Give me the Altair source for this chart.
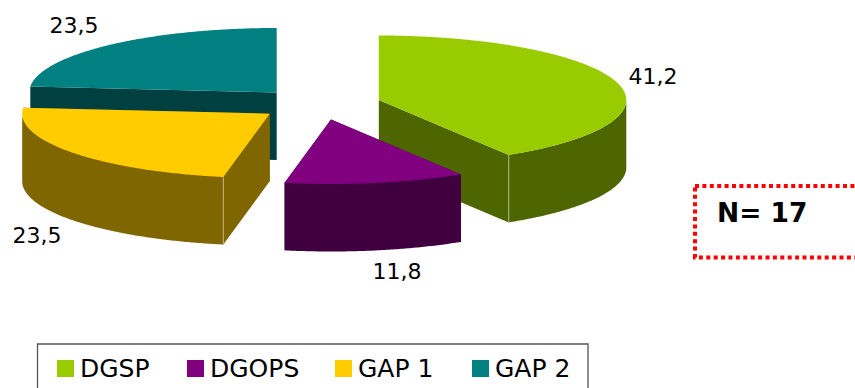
import math
import altair as alt
import pandas as pd

# Shares per group, in percent
groups = ["DGSP", "DGOPS", "GAP 1", "GAP 2"]
shares = [41.2, 11.8, 23.5, 23.5]
share_labels = ["41,2", "11,8", "23,5", "23,5"]
top_colors = ["#99CC00", "#800080", "#FFCC00", "#008080"]
wall_colors = ["#4D6600", "#400040", "#806600", "#004040"]

# Layout of the exploded pie, in pixels
W, H = 855, 388
RX, RY, DEPTH = 247.5, 64.5, 67.5
pivots = {"DGSP": (378.8, 100), "DGOPS": (331, 119.5), "GAP 1": (269.7, 113.7), "GAP 2": (276.7, 92.5)}
label_pos = {"DGSP": (653, 84), "DGOPS": (397, 279), "GAP 1": (37, 243), "GAP 2": (74, 33)}
draw_order = ["GAP 2", "DGSP", "GAP 1", "DGOPS"]
key_left = [57, 187, 335, 472]

x_scale = alt.Scale(domain=[0, W], nice=False, zero=False)
y_scale = alt.Scale(domain=[H, 0], nice=False, zero=False)
x_enc = alt.X("x:Q", scale=x_scale, axis=None)
y_enc = alt.Y("y:Q", scale=y_scale, axis=None)
group_color = alt.Color(
    "group:N", scale=alt.Scale(domain=groups, range=top_colors), legend=None
)


def rim(pivot, deg, drop=0):
    a = math.radians(deg)
    return pivot[0] + RX * math.sin(a), pivot[1] - RY * math.cos(a) + drop


def arc(pivot, start, end, drop=0):
    n = max(2, int(abs(end - start) * 2))
    return [rim(pivot, start + (end - start) * i / n, drop) for i in range(n + 1)]


def polygon(points, color_enc):
    df = pd.DataFrame(points, columns=["x", "y"])
    df["i"] = range(len(df))
    return alt.Chart(df).mark_line(filled=True, strokeWidth=0, interpolate="linear").encode(
        x=x_enc, y=y_enc, order=alt.Order("i:Q"), **color_enc
    )


def seam(p, q, color):
    df = pd.DataFrame([p, q], columns=["x", "y"])
    df["i"] = range(2)
    return alt.Chart(df).mark_line(color=color, strokeWidth=1).encode(
        x=x_enc, y=y_enc, order=alt.Order("i:Q")
    )


layers = []

# Pie slices, back to front
bounds = {}
angle = 0.0
for g, s in zip(groups, shares):
    bounds[g] = (angle, angle + s * 3.6)
    angle += s * 3.6

for g in draw_order:
    idx = groups.index(g)
    start, end = bounds[g]
    p = pivots[g]
    wall = {"color": alt.value(wall_colors[idx])}
    # Radial faces, then the visible front of the rim, then the top
    for deg in (start, end):
        edge = rim(p, deg)
        layers.append(polygon([p, edge, (edge[0], edge[1] + DEPTH), (p[0], p[1] + DEPTH)], wall))
    f0, f1 = max(start, 90), min(end, 270)
    if f0 < f1:
        layers.append(polygon(arc(p, f0, f1) + arc(p, f1, f0, DEPTH), wall))
    top = pd.DataFrame(arc(p, start, end) + [p], columns=["x", "y"])
    top["i"] = range(len(top))
    top["group"] = g
    layers.append(
        alt.Chart(top).mark_line(filled=True, strokeWidth=0).encode(
            x=x_enc, y=y_enc, order=alt.Order("i:Q"), color=group_color
        )
    )

# Pale highlight on the front corners of the two large front slices
for g, col in (("DGSP", "#A9B87F"), ("GAP 1", "#BFB27F")):
    corner = rim(pivots[g], bounds[g][1] if g == "DGSP" else bounds[g][0])
    layers.append(seam(corner, (corner[0], corner[1] + DEPTH), col))

# Value labels beside the slices
labels = pd.DataFrame(
    {
        "x": [label_pos[g][0] for g in groups],
        "y": [label_pos[g][1] for g in groups],
        "label": share_labels,
    }
)
layers.append(
    alt.Chart(labels).mark_text(font="DejaVu Sans", fontSize=22, color="#000000", baseline="alphabetic").encode(
        x=x_enc, y=y_enc, text="label:N"
    )
)

# Key along the bottom, its frame's lower edge lying below the visible area
layers.append(
    alt.Chart(pd.DataFrame({"frame": [1]})).mark_rect(
        fill="#FFFFFF", stroke="#555555", strokeWidth=1.3
    ).encode(x=alt.value(37.5), x2=alt.value(588), y=alt.value(344), y2=alt.value(420))
)
key = pd.DataFrame({"group": groups, "left": key_left})
key["sx"] = key["left"] + 8.5
key["tx"] = key["left"] + 23
key["sy"] = 368.5
key["ty"] = 377
layers.append(
    alt.Chart(key).mark_square(size=289, opacity=1, strokeWidth=0).encode(
        x=alt.X("sx:Q", scale=x_scale, axis=None),
        y=alt.Y("sy:Q", scale=y_scale, axis=None),
        color=group_color,
    )
)
layers.append(
    alt.Chart(key).mark_text(
        font="DejaVu Sans", fontSize=25, color="#000000", align="left", baseline="alphabetic"
    ).encode(
        x=alt.X("tx:Q", scale=x_scale, axis=None),
        y=alt.Y("ty:Q", scale=y_scale, axis=None),
        text="group:N",
    )
)

# Sample-size note in a dotted red box running off the right side
layers.append(
    alt.Chart(pd.DataFrame({"n": ["N= 17"]})).mark_rect(
        fill="#FFFFFF", stroke="#FF0000", strokeWidth=4, strokeDash=[4, 3.4]
    ).encode(x=alt.value(695), x2=alt.value(900), y=alt.value(186), y2=alt.value(257.5))
)
layers.append(
    alt.Chart(pd.DataFrame({"n": ["N= 17"]})).mark_text(
        font="DejaVu Sans", fontSize=26.5, fontWeight="bold", color="#000000", align="left", baseline="alphabetic"
    ).encode(x=alt.value(717), y=alt.value(222), text="n:N")
)

chart = (
    alt.layer(*layers)
    .resolve_scale(x="shared", y="shared")
    .properties(width=W, height=H, padding=0, autosize=alt.AutoSizeParams(type="none"), background="#FFFFFF")
    .configure_view(stroke=None)
)

chart.save("out.html", embed_options={"renderer": "svg", "actions": False})
